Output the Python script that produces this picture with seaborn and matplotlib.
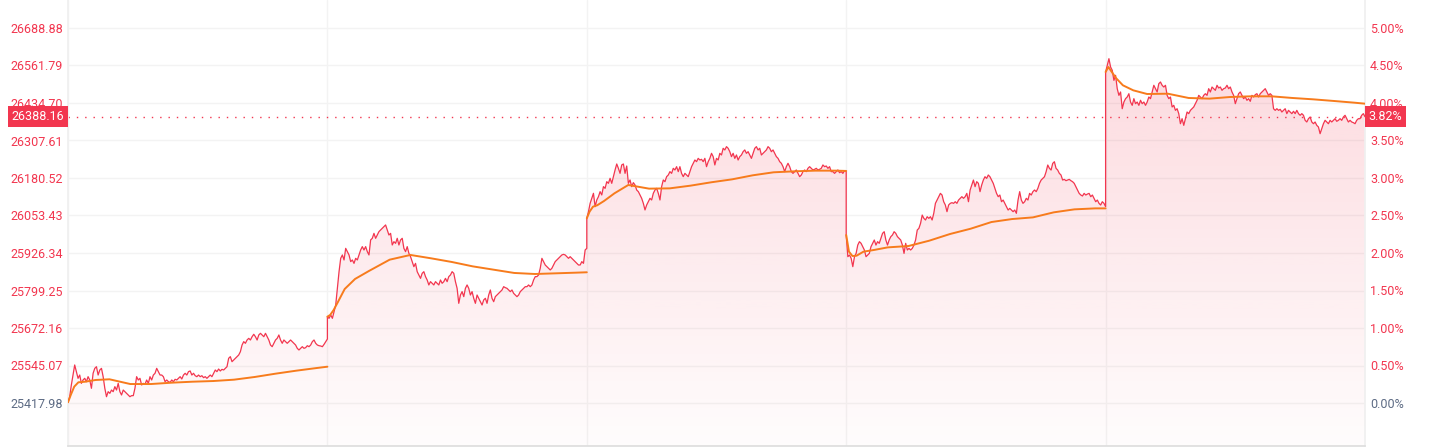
import numpy as np
import pandas as pd
import seaborn as sns
import matplotlib.pyplot as plt

# базовая цена (0.00%) и последняя цена
base_price = 25417.98
last_price = 26388.16
session_minutes = 375

# изменение цены в %, по дням
day1_pct = [0.01, 0.084, 0.24, 0.373, 0.507, 0.418, 0.329, 0.373, 0.262, 0.307, 0.329, 0.284, 0.351, 0.307,
            0.196, 0.396, 0.462, 0.484, 0.373, 0.44, 0.462, 0.351, 0.196, 0.084, 0.151, 0.129, 0.173, 0.151,
            0.218, 0.173, 0.262, 0.151, 0.107, 0.173, 0.151, 0.129, 0.107, 0.084, 0.098, 0.098, 0.196, 0.351,
            0.307, 0.329, 0.24, 0.262, 0.249, 0.307, 0.262, 0.351, 0.307, 0.373, 0.396, 0.462, 0.418, 0.373,
            0.373, 0.351, 0.284, 0.307, 0.284, 0.276, 0.307, 0.284, 0.316, 0.307, 0.329, 0.351, 0.32, 0.373,
            0.396, 0.373, 0.418, 0.427, 0.373, 0.396, 0.364, 0.351, 0.373, 0.351, 0.364, 0.338, 0.351, 0.329,
            0.351, 0.373, 0.351, 0.396, 0.44, 0.418, 0.453, 0.427, 0.449, 0.44, 0.462, 0.484, 0.596, 0.618,
            0.551, 0.573, 0.596, 0.618, 0.64, 0.684, 0.773, 0.818, 0.796, 0.84, 0.862, 0.84, 0.884, 0.916,
            0.884, 0.84, 0.907, 0.929, 0.907, 0.884, 0.929, 0.884, 0.84, 0.773, 0.751, 0.796, 0.84, 0.862,
            0.907, 0.84, 0.796, 0.84, 0.818, 0.796, 0.818, 0.84, 0.818, 0.796, 0.773, 0.729, 0.707, 0.729,
            0.751, 0.729, 0.738, 0.764, 0.751, 0.773, 0.818, 0.84, 0.796, 0.773, 0.764, 0.76, 0.751, 0.782,
            0.818, 0.853]
day2_pct = [1.151, 1.129, 1.174, 1.129, 1.218, 1.307, 1.529, 1.751, 1.929, 1.974, 1.907, 2.062, 2.018, 1.974,
            1.885, 1.907, 1.862, 1.929, 1.907, 1.974, 2.04, 2.085, 2.04, 2.085, 2.018, 1.974, 2.174, 2.196,
            2.262, 2.196, 2.24, 2.285, 2.307, 2.329, 2.351, 2.374, 2.307, 2.24, 2.262, 2.107, 2.151, 2.129,
            2.196, 2.107, 2.174, 2.196, 2.062, 2.018, 2.085, 1.996, 1.951, 1.885, 1.818, 1.862, 1.751, 1.707,
            1.662, 1.729, 1.751, 1.685, 1.64, 1.574, 1.618, 1.596, 1.574, 1.618, 1.596, 1.574, 1.64, 1.596,
            1.618, 1.662, 1.618, 1.685, 1.707, 1.751, 1.729, 1.618, 1.529, 1.329, 1.44, 1.485, 1.418, 1.529,
            1.574, 1.529, 1.44, 1.485, 1.396, 1.329, 1.44, 1.396, 1.351, 1.307, 1.374, 1.396, 1.329, 1.44,
            1.507, 1.396, 1.351, 1.418, 1.44, 1.462, 1.485, 1.507, 1.551, 1.538, 1.529, 1.507, 1.485, 1.507,
            1.462, 1.44, 1.418, 1.44, 1.485, 1.507, 1.529, 1.551, 1.551, 1.574, 1.551, 1.574, 1.64, 1.685,
            1.685, 1.707, 1.796, 1.929, 1.885, 1.84, 1.818, 1.796, 1.774, 1.796, 1.84, 1.885, 1.907, 1.929,
            1.951, 1.974, 1.982, 1.974, 1.951, 1.929, 1.951, 1.929, 1.907, 1.885, 1.862, 1.84, 1.84, 1.885,
            1.862, 2.04, 2.062]
day3_pct = [2.462, 2.551, 2.662, 2.729, 2.796, 2.618, 2.707, 2.751, 2.818, 2.774, 2.885, 2.862, 2.951, 2.929,
            2.996, 2.929, 3.018, 3.107, 3.187, 3.129, 3.062, 3.174, 3.187, 3.062, 3.16, 2.929, 2.974, 2.885,
            2.938, 2.907, 2.84, 2.818, 2.774, 2.729, 2.662, 2.574, 2.64, 2.685, 2.729, 2.707, 2.796, 2.84,
            2.862, 2.796, 2.707, 2.885, 2.974, 2.951, 3.018, 3.04, 3.085, 3.062, 3.129, 3.107, 3.151, 3.085,
            3.151, 3.062, 3.018, 3.062, 3.04, 3.018, 3.085, 3.151, 3.196, 3.24, 3.218, 3.262, 3.24, 3.249,
            3.218, 3.262, 3.151, 3.218, 3.262, 3.329, 3.285, 3.174, 3.262, 3.24, 3.329, 3.307, 3.396, 3.374,
            3.418, 3.396, 3.351, 3.285, 3.329, 3.262, 3.307, 3.24, 3.285, 3.307, 3.351, 3.374, 3.329, 3.351,
            3.307, 3.262, 3.329, 3.396, 3.418, 3.374, 3.396, 3.307, 3.329, 3.351, 3.374, 3.418, 3.396, 3.351,
            3.374, 3.329, 3.285, 3.262, 3.218, 3.196, 3.151, 3.085, 3.151, 3.196, 3.151, 3.085, 3.062, 3.085,
            3.107, 3.062, 3.018, 3.04, 3.085, 3.107, 3.085, 3.129, 3.151, 3.129, 3.107, 3.116, 3.129, 3.107,
            3.116, 3.129, 3.174, 3.151, 3.16, 3.129, 3.151, 3.085, 3.085, 3.062, 3.085, 3.107, 3.071, 3.085,
            3.062, 3.098, 3.085]
day4_pct = [2.24, 1.951, 1.973, 1.929, 1.818, 1.951, 1.995, 2.106, 2.151, 2.129, 2.084, 2.04, 1.951, 1.973,
            1.995, 2.084, 2.129, 2.173, 2.106, 2.151, 2.129, 2.195, 2.262, 2.284, 2.173, 2.106, 2.173, 2.218,
            2.24, 2.284, 2.262, 2.218, 2.195, 2.173, 2.106, 1.995, 2.129, 2.04, 2.062, 2.04, 2.062, 2.106,
            2.173, 2.306, 2.329, 2.395, 2.506, 2.462, 2.44, 2.484, 2.462, 2.484, 2.44, 2.529, 2.662, 2.706,
            2.751, 2.795, 2.773, 2.684, 2.64, 2.551, 2.64, 2.662, 2.671, 2.662, 2.684, 2.662, 2.706, 2.729,
            2.751, 2.729, 2.751, 2.795, 2.684, 2.84, 2.906, 2.973, 2.884, 2.951, 2.929, 2.818, 2.906, 2.973,
            3.017, 2.995, 3.04, 3.017, 2.973, 2.929, 2.862, 2.795, 2.751, 2.773, 2.684, 2.706, 2.662, 2.618,
            2.573, 2.595, 2.573, 2.551, 2.573, 2.529, 2.706, 2.818, 2.706, 2.662, 2.684, 2.729, 2.706, 2.795,
            2.773, 2.818, 2.84, 2.818, 2.862, 2.929, 2.973, 2.995, 3.017, 3.084, 3.173, 3.129, 3.106, 3.195,
            3.217, 3.129, 3.106, 3.062, 3.04, 2.973, 2.982, 2.964, 2.973, 2.982, 2.964, 2.951, 2.929, 2.884,
            2.84, 2.795, 2.773, 2.76, 2.795, 2.773, 2.786, 2.795, 2.751, 2.773, 2.729, 2.684, 2.706, 2.662,
            2.64, 2.684, 2.662, 2.618]
day5_pct = [4.413, 4.502, 4.591, 4.48, 4.436, 4.302, 4.369, 4.191, 4.102, 4.147, 3.924, 4.013, 4.058, 4.08,
            4.124, 4.013, 3.969, 4.058, 3.991, 4.013, 3.969, 4.036, 3.991, 4.013, 3.969, 4.013, 4.08, 4.058,
            4.147, 4.236, 4.191, 4.147, 4.258, 4.28, 4.236, 4.213, 4.236, 4.102, 4.058, 4.08, 3.947, 3.969,
            3.902, 3.924, 3.858, 3.724, 3.791, 3.702, 3.791, 3.88, 3.858, 3.902, 3.924, 3.947, 3.991, 4.036,
            4.102, 4.08, 4.058, 4.102, 4.124, 4.102, 4.191, 4.147, 4.213, 4.191, 4.169, 4.236, 4.2, 4.213,
            4.169, 4.191, 4.2, 4.236, 4.191, 4.213, 4.147, 4.102, 3.991, 4.058, 4.124, 4.147, 4.102, 4.058,
            4.08, 4.036, 4.058, 4.022, 4.102, 4.08, 4.111, 4.124, 4.08, 4.124, 4.147, 4.169, 4.191, 4.147,
            4.102, 4.124, 4.102, 3.924, 3.902, 3.924, 3.902, 3.916, 3.88, 3.902, 3.924, 3.858, 3.902, 3.88,
            3.858, 3.889, 3.858, 3.902, 3.858, 3.836, 3.858, 3.836, 3.769, 3.747, 3.791, 3.813, 3.747, 3.724,
            3.747, 3.702, 3.68, 3.591, 3.658, 3.724, 3.769, 3.747, 3.724, 3.769, 3.747, 3.769, 3.791, 3.756,
            3.769, 3.791, 3.769, 3.813, 3.836, 3.791, 3.747, 3.769, 3.747, 3.738, 3.724, 3.769, 3.791, 3.791,
            3.836, 3.858, 3.817]

# скользящая средняя: минуты от открытия и значения в %
ma_minutes = [0, 4, 9, 15, 25, 40, 60, 90, 120, 150, 180, 210, 240, 270, 300, 330, 360, 375]
day1_ma = [0.009, 0.107, 0.218, 0.276, 0.284, 0.307, 0.316, 0.253, 0.253, 0.271, 0.284, 0.293, 0.311,
           0.347, 0.391, 0.431, 0.467, 0.484]
day2_ma = [1.151, 1.174, 1.24, 1.343, 1.52, 1.654, 1.76, 1.911, 1.974, 1.929, 1.88, 1.822, 1.778, 1.734,
           1.72, 1.729, 1.738, 1.743]
day3_ma = [2.462, 2.551, 2.618, 2.636, 2.694, 2.796, 2.907, 2.858, 2.862, 2.898, 2.943, 2.982, 3.036,
           3.076, 3.089, 3.098, 3.098, 3.094]
day4_ma = [2.24, 2.018, 1.96, 1.964, 2.018, 2.04, 2.075, 2.093, 2.164, 2.253, 2.324, 2.413, 2.453, 2.475,
           2.542, 2.582, 2.595, 2.595]
day5_ma = [4.413, 4.48, 4.413, 4.333, 4.236, 4.169, 4.12, 4.124, 4.067, 4.058, 4.08, 4.089, 4.089,
           4.067, 4.049, 4.027, 4.004, 3.991]

pct_ticks = [0.0, 0.5, 1.0, 1.5, 2.0, 2.5, 3.0, 3.5, 4.0, 4.5, 5.0]

RED = '#f2364f'
ORANGE = '#f77b1c'
MUTED = '#5d6b84'

# собираем таблицы
price_days = [day1_pct, day2_pct, day3_pct, day4_pct, day5_pct]
ma_days = [day1_ma, day2_ma, day3_ma, day4_ma, day5_ma]
price_df = pd.concat([pd.DataFrame({'x': d + np.linspace(0, 1, len(v)), 'pct': v})
                      for d, v in enumerate(price_days)], ignore_index=True)
ma_df = pd.concat([pd.DataFrame({'x': d + np.array(ma_minutes) / session_minutes, 'pct': v, 'day': d})
                   for d, v in enumerate(ma_days)], ignore_index=True)

sns.set_theme(style='white')
plt.rcParams['font.family'] = ['Roboto', 'DejaVu Sans']

fig = plt.figure(figsize=(14.33, 4.48), dpi=100)
ax = fig.add_axes([68 / 1433, 2 / 448, 1297 / 1433, 446 / 448])
ymin, ymax = (403 - 446) / 75, 403 / 75
ax.set_xlim(0, 5)
ax.set_ylim(ymin, ymax)

# заливка под линией с вертикальным градиентом
poly = ax.fill_between(price_df['x'], price_df['pct'], ymin, color='none', lw=0)
grad = np.zeros((200, 1, 4))
grad[..., :3] = plt.matplotlib.colors.to_rgb(RED)
grad[:, 0, 3] = np.linspace(0.21, 0.015, 200)
img = ax.imshow(grad, extent=[0, 5, ymin, ymax], aspect='auto', origin='upper', zorder=1)
img.set_clip_path(poly.get_paths()[0], transform=ax.transData)

sns.lineplot(data=price_df, x='x', y='pct', estimator=None, sort=False, color=RED, lw=0.9, ax=ax, zorder=3)
sns.lineplot(data=ma_df, x='x', y='pct', units='day', estimator=None, sort=False, color=ORANGE, lw=1.4,
             ax=ax, zorder=4)

last_pct = (last_price / base_price - 1) * 100
ax.axhline(last_pct, color=RED, lw=1, ls=(0, (1, 5)), zorder=2)

# сетка и оси
ax.set_xticks(range(6))
ax.set_xticklabels([])
ax.set_yticks(pct_ticks)
ax.set_yticklabels([f'{base_price * (1 + p / 100):.2f}' for p in pct_ticks])
ax.grid(True, color='#f3f3f3', lw=1)
ax.set_axisbelow(True)
ax.tick_params(length=0, labelsize=9, pad=3.6)
for lbl, p in zip(ax.get_yticklabels(), pct_ticks):
    lbl.set_color(MUTED if p == 0 else RED)
ax.set_xlabel('')
ax.set_ylabel('')
for side in ['left', 'right']:
    ax.spines[side].set_color('#f0f0f0')
ax.spines['top'].set_visible(False)
ax.spines['bottom'].set_color('#dedede')

ax2 = ax.twinx()
ax2.set_ylim(ymin, ymax)
ax2.set_yticks(pct_ticks)
ax2.set_yticklabels([f'{p:.2f}%' for p in pct_ticks])
ax2.tick_params(length=0, labelsize=9, pad=3.6)
for lbl, p in zip(ax2.get_yticklabels(), pct_ticks):
    lbl.set_color(MUTED if p == 0 else RED)
for s in ax2.spines.values():
    s.set_visible(False)

# метки текущей цены
box = dict(boxstyle='square,pad=0.3', fc=RED, ec='none')
ax.annotate(f'{last_price:.2f}', xy=(0, last_pct), xycoords=('axes fraction', 'data'),
            xytext=(-2.7, 0), textcoords='offset points', ha='right', va='center',
            color='white', fontsize=9, bbox=box, zorder=10, annotation_clip=False)
ax2.annotate(f'{last_pct:.2f}%', xy=(1, last_pct), xycoords=('axes fraction', 'data'),
             xytext=(2.7, 0), textcoords='offset points', ha='left', va='center',
             color='white', fontsize=9, bbox=box, zorder=10, annotation_clip=False)

fig.savefig('out.png', dpi=100)
